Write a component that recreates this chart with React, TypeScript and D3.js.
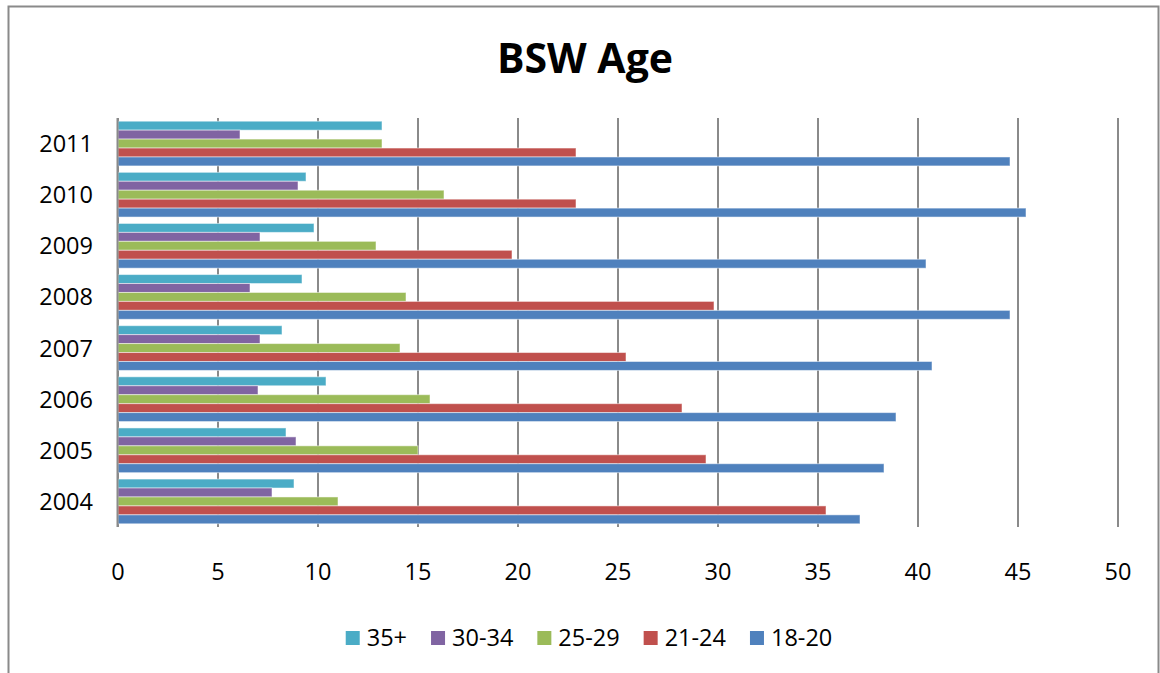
import * as d3 from 'd3'
import { FC, useMemo } from 'react'

const WIDTH = 1160
const HEIGHT = 673
const MARGIN = { top: 118, right: 42, bottom: 146, left: 118 }
const FONT = '"Open Sans", "Liberation Sans", sans-serif'
const LABEL_SIZE = 23.5

const YEARS = ['2004', '2005', '2006', '2007', '2008', '2009', '2010', '2011']
// series in legend order (top bar of each group first)
const SERIES = ['35+', '30-34', '25-29', '21-24', '18-20']
const COLORS = ['#4BACC6', '#8064A2', '#9BBB59', '#C0504D', '#4F81BD']

const AGE_35_PLUS = [8.8, 8.4, 10.4, 8.2, 9.2, 9.8, 9.4, 13.2]
const AGE_30_34 = [7.7, 8.9, 7.0, 7.1, 6.6, 7.1, 9.0, 6.1]
const AGE_25_29 = [11.0, 15.0, 15.6, 14.1, 14.4, 12.9, 16.3, 13.2]
const AGE_21_24 = [35.4, 29.4, 28.2, 25.4, 29.8, 19.7, 22.9, 22.9]
const AGE_18_20 = [37.1, 38.3, 38.9, 40.7, 44.6, 40.4, 45.4, 44.6]

const VALUES = [AGE_35_PLUS, AGE_30_34, AGE_25_29, AGE_21_24, AGE_18_20]
const X_TICKS = [0, 5, 10, 15, 20, 25, 30, 35, 40, 45, 50]

const measure = (text: string, font: string) => {
  const ctx = document.createElement('canvas').getContext('2d')
  if (!ctx) return text.length * 12
  ctx.font = font
  return ctx.measureText(text).width
}

const App: FC = () => {
  const boundsWidth = WIDTH - MARGIN.left - MARGIN.right
  const boundsHeight = HEIGHT - MARGIN.top - MARGIN.bottom

  const xScale = useMemo(
    () => d3.scaleLinear().domain([0, 50]).range([0, boundsWidth]),
    [boundsWidth]
  )

  // 2011 on top, 2004 at the bottom
  const yScale = useMemo(
    () =>
      d3
        .scaleBand()
        .domain([...YEARS].reverse())
        .range([0, boundsHeight])
        .paddingInner(0.125)
        .paddingOuter(0.0625),
    [boundsHeight]
  )

  const seriesScale = d3
    .scaleBand()
    .domain(SERIES)
    .range([0, yScale.bandwidth()])

  const bars = YEARS.flatMap((year, i) =>
    SERIES.map((s, j) => (
      <rect
        key={ year + s }
        x={ 0 }
        y={ (yScale(year) as number) + (seriesScale(s) as number) }
        width={ xScale(VALUES[j][i]) }
        height={ seriesScale.bandwidth() }
        fill={ COLORS[j] }
        stroke='#ffffff'
        strokeOpacity={ 0.5 }
        strokeWidth={ 1 }
      />
    ))
  )

  // legend layout from measured label widths
  const legendFont = `${LABEL_SIZE}px ${FONT}`
  const legendItems = SERIES.map((s) => ({ s, w: measure(s, legendFont) }))
  const legendTotal =
    legendItems.reduce((acc, d) => acc + 14 + 7 + d.w, 0) +
    24 * (legendItems.length - 1)
  let cursor = WIDTH / 2 + 9 - legendTotal / 2

  return (
    <div style={ { position: 'absolute', left: 0, top: 0 } }>
      <svg width={ WIDTH } height={ HEIGHT } style={ { display: 'block' } }>
        <rect x={ 0 } y={ 0 } width={ WIDTH } height={ HEIGHT } fill='#ffffff' />
        <rect
          x={ 8.5 }
          y={ 6.5 }
          width={ 1150 }
          height={ 700 }
          fill='none'
          stroke='#8a8a8a'
          strokeWidth={ 2 }
        />
        <text
          x={ 585 }
          y={ 73 }
          textAnchor='middle'
          fontFamily={ FONT }
          fontWeight='bold'
          fontSize={ 41 }
          fill='#000000'
        >
          BSW Age
        </text>

        <g transform={ `translate(${MARGIN.left},${MARGIN.top})` }>
          { X_TICKS.map((t) => (
            <line
              key={ t }
              x1={ xScale(t) }
              x2={ xScale(t) }
              y1={ 0 }
              y2={ boundsHeight }
              stroke='#8a8a8a'
              strokeWidth={ 2 }
            />
          )) }
          { bars }
          <line
            x1={ -0.5 }
            x2={ -0.5 }
            y1={ 0 }
            y2={ boundsHeight }
            stroke='#8a8a8a'
            strokeWidth={ 2 }
          />
          { X_TICKS.map((t) => (
            <text
              key={ t }
              x={ xScale(t) }
              y={ boundsHeight + 53 }
              textAnchor='middle'
              fontFamily={ FONT }
              fontSize={ LABEL_SIZE }
              fill='#000000'
            >
              { t }
            </text>
          )) }
          { YEARS.map((year) => (
            <text
              key={ year }
              x={ -25 }
              y={ (yScale(year) as number) + yScale.bandwidth() / 2 }
              dy='0.36em'
              textAnchor='end'
              fontFamily={ FONT }
              fontSize={ LABEL_SIZE }
              fill='#000000'
            >
              { year }
            </text>
          )) }
        </g>

        <g>
          { legendItems.map((d, i) => {
            const x = cursor
            cursor += 14 + 7 + d.w + 24
            return (
              <g key={ d.s } transform={ `translate(${x},638)` }>
                <rect x={ 0 } y={ -7 } width={ 14 } height={ 14 } fill={ COLORS[i] } />
                <text
                  x={ 21 }
                  y={ 0 }
                  dy='0.36em'
                  fontFamily={ FONT }
                  fontSize={ LABEL_SIZE }
                  fill='#000000'
                >
                  { d.s }
                </text>
              </g>
            )
          }) }
        </g>
      </svg>
    </div>
  )
}

export default App
